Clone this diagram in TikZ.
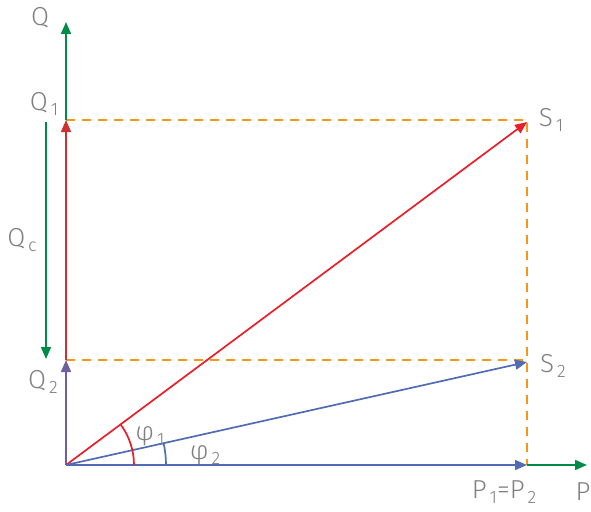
\documentclass[tikz,border=0pt]{standalone}
\usepackage{fontspec}
\setmainfont{Fira Sans Light}
\usetikzlibrary{arrows.meta, angles}

\definecolor{qgreen}{RGB}{0,140,70}
\definecolor{sred}{RGB}{232,30,40}
\definecolor{qred}{RGB}{205,50,50}
\definecolor{sblue}{RGB}{82,108,180}
\definecolor{qpurple}{RGB}{110,95,160}
\definecolor{dorange}{RGB}{245,150,30}
\definecolor{lbl}{RGB}{128,128,128}

\newcommand{\idx}[1]{\hspace{3pt}\raisebox{-5pt}{\fontsize{18}{18}\selectfont #1}}

\tikzset{
  vec/.style={line width=1.7pt, -{Triangle[length=12pt,width=10pt]}},
  helpline/.style={dorange, line width=1.8pt, dash pattern=on 9pt off 7pt},
  lab/.style={text=lbl, font=\fontsize{26}{26}\selectfont, inner sep=0pt}
}

\begin{document}
\begin{tikzpicture}[x=1pt, y=-1pt]

    \useasboundingbox (0,0) rectangle (591,511);

    % 1. Punkte
    \coordinate (O)  at (66,465);
    \coordinate (S1) at (527,122);
    \coordinate (S2) at (527,362);
    \coordinate (P12) at (527,465);
    \coordinate (Pend) at (587,465);
    \coordinate (Q1) at (66,120);
    \coordinate (Q2) at (66,360);
    \coordinate (Qend) at (66,22);
    \coordinate (Qca) at (46,122);
    \coordinate (Qcb) at (46,359);

    % 2. Hilfslinien
    \draw[helpline] (Q1) -- (S1 |- Q1) -- (P12);
    \draw[helpline] (Q2) -- (S2 |- Q2);

    % 3. Achsen
    \draw[vec, qgreen] (Q1) -- (Qend);
    \draw[vec, qgreen] (P12) -- (Pend);

    % 4. Blindleistungen
    \draw[vec, qred] (Q2) -- (Q1);
    \draw[vec, qpurple] (O) -- (Q2);
    \draw[vec, qgreen] (Qca) -- (Qcb);

    % 5. Zeiger
    \draw[vec, sblue] (O) -- (P12);
    \draw[vec, sred] (O) -- (S1);
    \draw[vec, sblue] (O) -- (S2);

    % Winkel
    \pic[draw, sred, line width=1.7pt, angle radius=68pt] {angle = P12--O--S1};
    \pic[draw, sblue, line width=1.7pt, angle radius=100pt] {angle = P12--O--S2};

    % 6. Beschriftungen
    \node[lab] (lQ)   at (40,18)  {Q};
    \node[lab] (lQ1)  at (44,104) {Q\idx{1}};
    \node[lab] (lQ2)  at (43,382) {Q\idx{2}};
    \node[lab] (lQc)  at (22,240) {Q\idx{c}};
    \node[lab] (lS1)  at (551,120) {S\idx{1}};
    \node[lab] (lS2)  at (553,366) {S\idx{2}};
    \node[lab] (lP12) at (504,492) {P\idx{1}=P\idx{2}};
    \node[lab] (lP)   at (583,492) {P};
    \node[lab] (lphi1) at (150,436) {φ\idx{1}};
    \node[lab] (lphi2) at (205,455) {φ\idx{2}};

\end{tikzpicture}
\end{document}
